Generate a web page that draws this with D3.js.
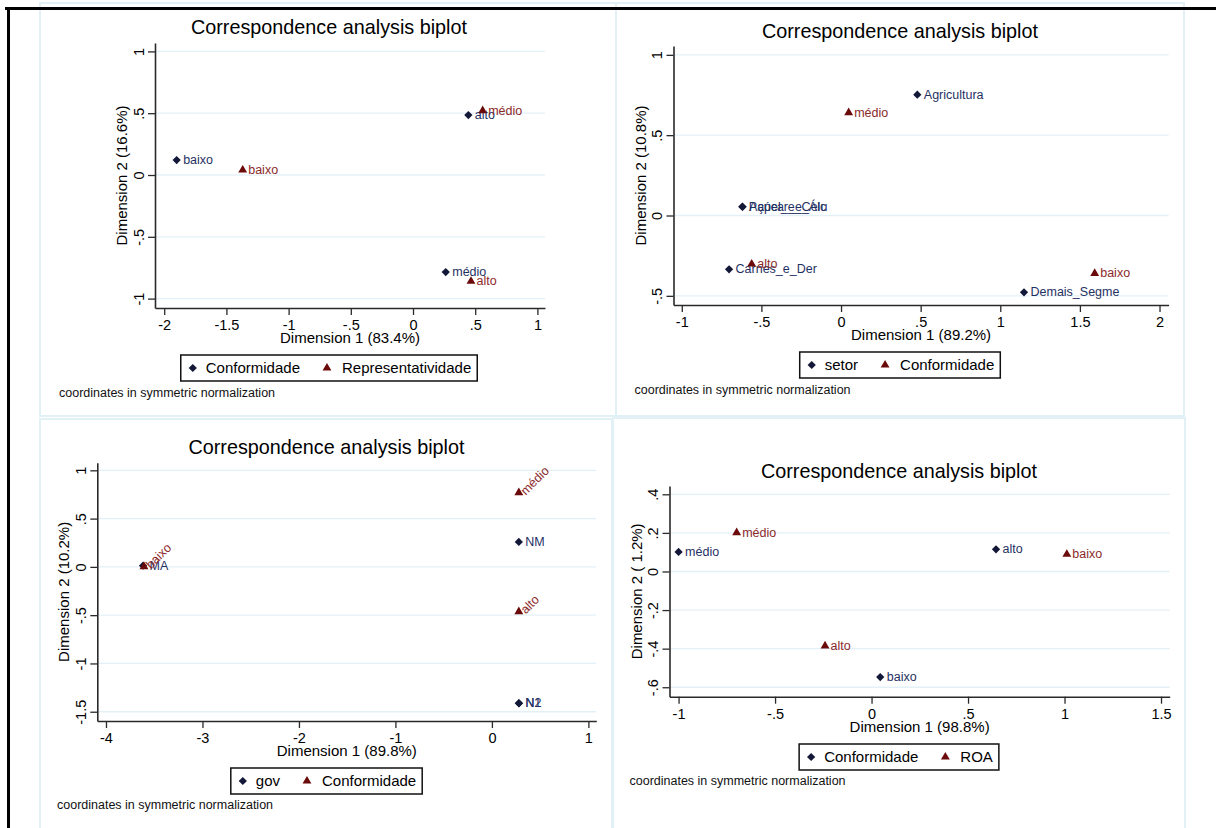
<!DOCTYPE html>
<html>
<head>
<meta charset="utf-8">
<script src="https://cdn.jsdelivr.net/npm/d3@7"></script>
<style>
body { margin: 0; background: #fff; }
svg { display: block; font-family: "Liberation Sans", Arial, sans-serif; }
</style>
</head>
<body>
<svg id="chart" width="1216" height="828"></svg>
<script>
// panel 1 - Conformidade x Representatividade
var p1RowLabels = ['baixo', 'médio', 'alto'];
var p1RowX = [-1.90, 0.263, 0.445];
var p1RowY = [0.121, -0.785, 0.485];
var p1ColLabels = ['baixo', 'médio', 'alto'];
var p1ColX = [-1.369, 0.56, 0.466];
var p1ColY = [0.04, 0.52, -0.86];
var p1XTicks = [-2, -1.5, -1, -0.5, 0, 0.5, 1];
var p1YTicks = [-1, -0.5, 0, 0.5, 1];
var p1Legend = ['Conformidade', 'Representatividade'];
var p1Dims = ['Dimension 1 (83.4%)', 'Dimension 2 (16.6%)'];

// panel 2 - setor x Conformidade
var p2RowLabels = ['Agricultura', 'Papel_e_Celu', 'Açúcar_e_Álc', 'Carnes_e_Der', 'Demais_Segme'];
var p2RowX = [0.479, -0.620, -0.618, -0.703, 1.149];
var p2RowY = [0.752, 0.055, 0.054, -0.335, -0.478];
var p2ColLabels = ['médio', 'alto', 'baixo'];
var p2ColX = [0.048, -0.561, 1.593];
var p2ColY = [0.640, -0.302, -0.36];
var p2XTicks = [-1, -0.5, 0, 0.5, 1, 1.5, 2];
var p2YTicks = [-0.5, 0, 0.5, 1];
var p2Legend = ['setor', 'Conformidade'];
var p2Dims = ['Dimension 1 (89.2%)', 'Dimension 2 (10.8%)'];

// panel 3 - gov x Conformidade
var p3RowLabels = ['NM', 'N1', 'N2', 'MA'];
var p3RowX = [0.279, 0.279, 0.281, -3.616];
var p3RowY = [0.258, -1.412, -1.413, 0.012];
var p3ColLabels = ['médio', 'alto', 'baixo'];
var p3ColX = [0.279, 0.279, -3.606];
var p3ColY = [0.768, -0.464, 0.002];
var p3XTicks = [-4, -3, -2, -1, 0, 1];
var p3YTicks = [-1.5, -1, -0.5, 0, 0.5, 1];
var p3Legend = ['gov', 'Conformidade'];
var p3Dims = ['Dimension 1 (89.8%)', 'Dimension 2 (10.2%)'];

// panel 4 - Conformidade x ROA
var p4RowLabels = ['médio', 'alto', 'baixo'];
var p4RowX = [-1.0, 0.645, 0.045];
var p4RowY = [0.101, 0.115, -0.547];
var p4ColLabels = ['médio', 'baixo', 'alto'];
var p4ColX = [-0.699, 1.012, -0.241];
var p4ColY = [0.201, 0.089, -0.386];
var p4XTicks = [-1, -0.5, 0, 0.5, 1, 1.5];
var p4YTicks = [-0.6, -0.4, -0.2, 0, 0.2, 0.4];
var p4Legend = ['Conformidade', 'ROA'];
var p4Dims = ['Dimension 1 (98.8%)', 'Dimension 2 ( 1.2%)'];

var chartTitle = 'Correspondence analysis biplot';
var note = 'coordinates in symmetric normalization';

var rowMark = '#131838', rowText = '#1f3163';
var colMark = '#6a0a0a', colText = '#8c2a2a';

var svg = d3.select('#chart');

function fmt(v) {
  return String(v).replace(/^(-?)0\./, '$1.');
}

function zip(labels, xs, ys) {
  return labels.map(function(l, i) { return {label: l, x: xs[i], y: ys[i]}; });
}

var panels = [
  {box: [40, 3, 616, 416], cx: 329, titleY: 34, plot: [155, 43, 545, 308],
   xDom: [-2.074, 1.061], yDom: [-1.076, 1.068], legendY: 355, noteX: 59, noteY: 397,
   rows: zip(p1RowLabels, p1RowX, p1RowY), cols: zip(p1ColLabels, p1ColX, p1ColY),
   xTicks: p1XTicks, yTicks: p1YTicks, legend: p1Legend, dims: p1Dims, angle: 0},
  {box: [616, 3, 1184, 416], cx: 900, titleY: 38, plot: [673.5, 46, 1168.6, 305],
   xDom: [-1.052, 2.057], yDom: [-0.557, 1.055], legendY: 352, noteX: 634.5, noteY: 394,
   rows: zip(p2RowLabels, p2RowX, p2RowY), cols: zip(p2ColLabels, p2ColX, p2ColY),
   xTicks: p2XTicks, yTicks: p2YTicks, legend: p2Legend, dims: p2Dims, angle: 0},
  {box: [40, 419, 612, 840], cx: 326.5, titleY: 454, plot: [97.3, 462.7, 596.3, 721],
   xDom: [-4.09, 1.082], yDom: [-1.596, 1.079], legendY: 768, noteX: 57, noteY: 809,
   rows: zip(p3RowLabels, p3RowX, p3RowY), cols: zip(p3ColLabels, p3ColX, p3ColY),
   xTicks: p3XTicks, yTicks: p3YTicks, legend: p3Legend, dims: p3Dims, angle: -45},
  {box: [613, 418, 1185, 840], cx: 899, titleY: 478, plot: [669.5, 486, 1169.7, 696.7],
   xDom: [-1.047, 1.545], yDom: [-0.649, 0.443], legendY: 744, noteX: 629.5, noteY: 785,
   rows: zip(p4RowLabels, p4RowX, p4RowY), cols: zip(p4ColLabels, p4ColX, p4ColY),
   xTicks: p4XTicks, yTicks: p4YTicks, legend: p4Legend, dims: p4Dims, angle: 0}
];

var diamond = d3.symbol(d3.symbolSquare, 34);
var triangle = d3.symbol(d3.symbolTriangle, 34);

function drawPanel(p) {
  var g = svg.append('g');

  g.append('rect')
    .attr('x', p.box[0]).attr('y', p.box[1])
    .attr('width', p.box[2] - p.box[0]).attr('height', p.box[3] - p.box[1])
    .attr('fill', '#fff').attr('stroke', '#e1f1f6').attr('stroke-width', 2);

  var x = d3.scaleLinear().domain(p.xDom).range([p.plot[0], p.plot[2]]);
  var y = d3.scaleLinear().domain(p.yDom).range([p.plot[3], p.plot[1]]);

  g.selectAll('.grid').data(p.yTicks).enter().append('line')
    .attr('x1', p.plot[0]).attr('x2', p.plot[2])
    .attr('y1', function(d) { return y(d); }).attr('y2', function(d) { return y(d); })
    .attr('stroke', '#e3f0f7').attr('stroke-width', 1.3);

  var xAxis = g.append('g')
    .attr('transform', 'translate(0,' + p.plot[3] + ')')
    .call(d3.axisBottom(x).tickValues(p.xTicks).tickFormat(fmt).tickSize(7).tickSizeOuter(0).tickPadding(5));
  var yAxis = g.append('g')
    .attr('transform', 'translate(' + p.plot[0] + ',0)')
    .call(d3.axisLeft(y).tickValues(p.yTicks).tickFormat(fmt).tickSize(7).tickSizeOuter(0));

  [xAxis, yAxis].forEach(function(a) {
    a.select('.domain').attr('stroke', '#2a2a2a').attr('stroke-width', 1.6);
    a.selectAll('.tick line').attr('stroke', '#2a2a2a').attr('stroke-width', 1.3);
    a.selectAll('text').attr('fill', '#000').style('font-size', '14.5px');
    a.attr('font-family', null).attr('font-size', null);
  });
  yAxis.selectAll('.tick text')
    .attr('x', 0).attr('dy', null)
    .attr('text-anchor', 'middle')
    .attr('transform', 'translate(-11.5,0) rotate(-90)');

  g.append('text')
    .attr('x', p.cx).attr('y', p.titleY)
    .attr('text-anchor', 'middle').style('font-size', '19.8px')
    .text(chartTitle);

  g.append('text')
    .attr('x', (p.plot[0] + p.plot[2]) / 2).attr('y', p.plot[3] + 35)
    .attr('text-anchor', 'middle').style('font-size', '15px')
    .text(p.dims[0]);
  g.append('text')
    .attr('transform', 'translate(' + (p.plot[0] - 28) + ',' + ((p.plot[1] + p.plot[3]) / 2) + ') rotate(-90)')
    .attr('text-anchor', 'middle').style('font-size', '15px')
    .style('white-space', 'pre')
    .text(p.dims[1]);

  // row points (diamonds) then column points (triangles) on top
  var rows = g.selectAll('.row').data(p.rows).enter().append('g')
    .attr('transform', function(d) { return 'translate(' + x(d.x) + ',' + y(d.y) + ')'; });
  rows.append('path').attr('d', diamond).attr('transform', 'rotate(45)').attr('fill', rowMark);
  rows.append('text').attr('x', 6.5).attr('dy', '0.33em')
    .style('font-size', '12.5px').attr('fill', rowText)
    .text(function(d) { return d.label; });

  var cols = g.selectAll('.col').data(p.cols).enter().append('g')
    .attr('transform', function(d) { return 'translate(' + x(d.x) + ',' + y(d.y) + ')'; });
  cols.append('path').attr('d', triangle).attr('fill', colMark);
  cols.append('text')
    .attr('transform', p.angle ? 'translate(4,0) rotate(' + p.angle + ')' : 'translate(5.5,0)')
    .attr('dy', '0.33em')
    .style('font-size', '12.5px').attr('fill', colText)
    .text(function(d) { return d.label; });

  // legend, centred on the panel
  var lg = g.append('g');
  var box = lg.append('rect').attr('fill', '#fff').attr('stroke', '#111').attr('stroke-width', 1.5);
  var cursor = 0;
  var ly = p.legendY + 13;
  p.legend.forEach(function(name, i) {
    if (i > 0) cursor += 15;
    lg.append('path')
      .attr('d', i === 0 ? diamond : triangle)
      .attr('transform', 'translate(' + (cursor + 12) + ',' + ly + ')' + (i === 0 ? ' rotate(45)' : ''))
      .attr('fill', i === 0 ? rowMark : colMark);
    var t = lg.append('text')
      .attr('x', cursor + (i === 0 ? 25 : 27)).attr('y', ly).attr('dy', '0.35em')
      .style('font-size', '15px').text(name);
    cursor += (i === 0 ? 25 : 27) + t.node().getComputedTextLength();
  });
  var w = cursor + 6;
  var x0 = p.cx - w / 2;
  box.attr('x', 0).attr('y', p.legendY).attr('width', w).attr('height', 26);
  lg.attr('transform', 'translate(' + x0 + ',0)');

  g.append('text')
    .attr('x', p.noteX).attr('y', p.noteY)
    .style('font-size', '12.5px').attr('fill', '#111')
    .text(note);
}

panels.forEach(drawPanel);

// outer black frame
svg.append('line').attr('x1', 5).attr('x2', 1216).attr('y1', 8.5).attr('y2', 8.5)
  .attr('stroke', '#000').attr('stroke-width', 3);
svg.append('line').attr('x1', 8.5).attr('x2', 8.5).attr('y1', 7).attr('y2', 828)
  .attr('stroke', '#000').attr('stroke-width', 3);
</script>
</body>
</html>
